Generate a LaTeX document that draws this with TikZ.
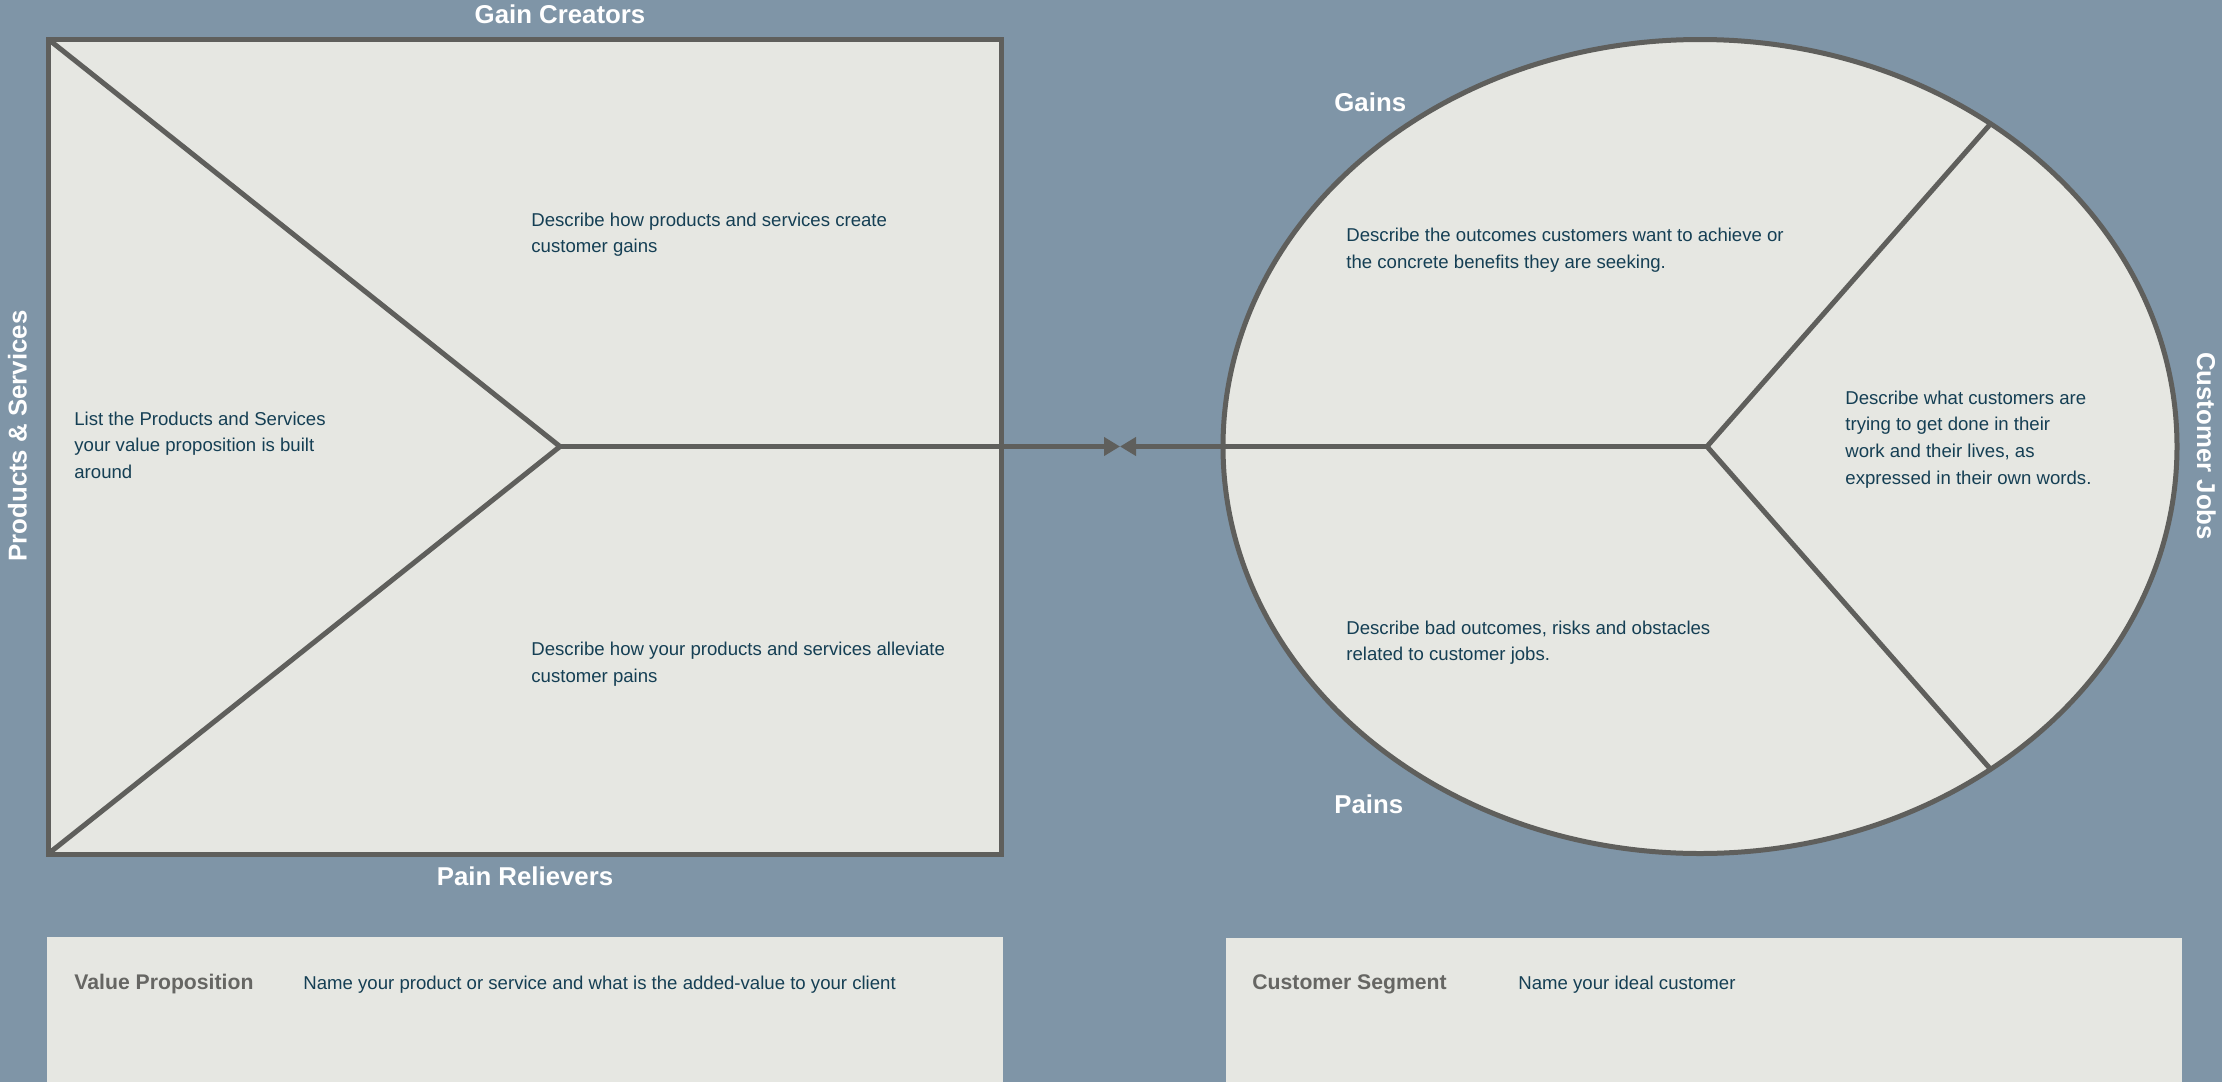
\documentclass[tikz,border=0pt]{standalone}
\usepackage{fontspec}
\setmainfont{Liberation Sans}
\usetikzlibrary{arrows.meta,shapes.geometric}

\definecolor{canvas}{HTML}{7F95A7}
\definecolor{panel}{HTML}{E6E7E2}
\definecolor{edge}{HTML}{5F5F5C}
\definecolor{ink}{HTML}{153F54}
\definecolor{caption}{HTML}{666663}

% several left-aligned lines whose baseline is the first line
\newcommand\textlines[1]{\begin{tabular}[t]{@{}l@{}}#1\end{tabular}}

\tikzset{
  frame/.style={draw=edge, line width=2.5pt, fill=panel, inner sep=0pt, outer sep=0pt},
  wire/.style={draw=edge, line width=2.5pt},
  conn/.style={wire, -{Triangle[length=8pt,width=9pt]}},
  heading/.style={text=white, font=\fontsize{12.9}{15}\selectfont\bfseries, inner sep=0pt},
  body/.style={text=ink, font=\fontsize{9.3}{13.35}\selectfont, inner sep=0pt, anchor=base west},
  tag/.style={text=caption, font=\fontsize{10.6}{13}\selectfont\bfseries, inner sep=0pt, anchor=base west},
  sheet/.style={fill=panel, draw=none}
}

\begin{document}
\begin{tikzpicture}[x=0.5pt, y=-0.5pt]
  % page background
  \fill[canvas] (0,0) rectangle (2222,1082);
  \useasboundingbox (0,0) rectangle (2222,1082);

  % bottom name panels
  \fill[sheet] (46.5,937) rectangle (1002.5,1082);
  \fill[sheet] (1226,937.5) rectangle (2182,1082);

  % value map square and customer profile ellipse
  \node[frame, rectangle, minimum width=476.5pt, minimum height=407.5pt] (vp) at (524.5,446.5) {};
  \node[frame, ellipse, minimum width=477pt, minimum height=407pt] (cs) at (1700,446.5) {};

  % inner divisions of the value map
  \coordinate (tip) at (560,446.5);
  \draw[wire] (vp.north west) -- (tip) -- (vp.south west);
  \draw[wire] (tip) -- (vp.east);

  % inner divisions of the customer profile
  \coordinate (hub) at (1707,446.5);
  \draw[wire] (cs.48.2) -- (hub) -- (cs.-48.2);
  \draw[wire] (hub) -- (cs.west);

  % fit arrows meeting between the two shapes
  \coordinate (meet) at (1120,446.5);
  \draw[conn] (vp.east) -- (meet);
  \draw[conn] (cs.west) -- (meet);

  % section headings
  \node[heading, anchor=base] (gc) at (560,23.5) {Gain Creators};
  \node[heading, anchor=base] (pr) at (525,885) {Pain Relievers};
  \node[heading, anchor=base, rotate=90] (ps) at (26.7,436) {Products \& Services};
  \node[heading, anchor=base west] (gn) at (1334,111) {Gains};
  \node[heading, anchor=base west] (pn) at (1334,813) {Pains};
  \node[heading, anchor=base, rotate=-90] (cj) at (2197,446) {Customer Jobs};

  % descriptions
  \node[body] (gcd) at (531,226) {\textlines{Describe how products and services create\\customer gains}};
  \node[body] (prd) at (531,655.5) {\textlines{Describe how your products and services alleviate\\customer pains}};
  \node[body] (psd) at (74,425) {\textlines{List the Products and Services\\your value proposition is built\\around}};
  \node[body] (gnd) at (1346,241.7) {\textlines{Describe the outcomes customers want to achieve or\\the concrete benefits they are seeking.}};
  \node[body] (cjd) at (1845,404) {\textlines{Describe what customers are\\trying to get done in their\\work and their lives, as\\expressed in their own words.}};
  \node[body] (pnd) at (1346,634) {\textlines{Describe bad outcomes, risks and obstacles\\related to customer jobs.}};

  % name panels
  \node[tag] (vpt) at (74,989) {Value Proposition};
  \node[body] (vpn) at (303,989) {Name your product or service and what is the added-value to your client};
  \node[tag] (cst) at (1252,989) {Customer Segment};
  \node[body] (csn) at (1518,989) {Name your ideal customer};
\end{tikzpicture}
\end{document}
